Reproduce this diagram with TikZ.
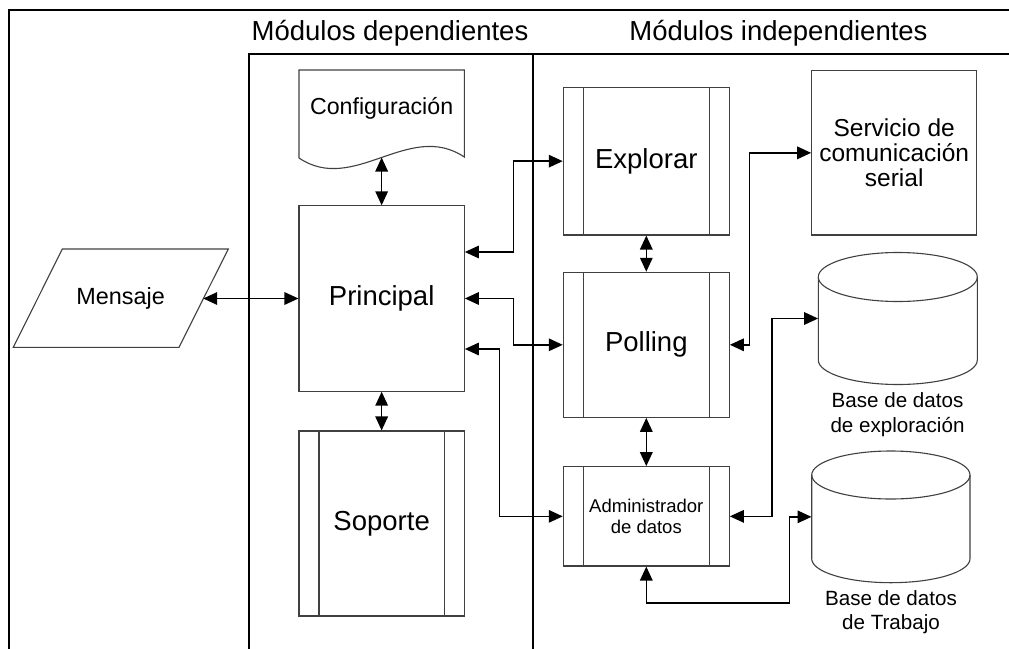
\documentclass[tikz,border=0pt]{standalone}
\usepackage{fontspec}
\setmainfont{Liberation Sans}
\usetikzlibrary{arrows.meta}
\begin{document}
\begin{tikzpicture}[x=1pt,y=-1pt,
  frameline/.style={line width=2pt,draw=black},
  colline/.style={line width=1.6pt,draw=black},
  shapeline/.style={line width=1.1pt,draw=black!75},
  plainbox/.style={shapeline,rectangle,inner sep=0pt,align=center},
  procbox/.style={plainbox,path picture={
     \draw[shapeline] ([xshift=20pt]path picture bounding box.north west) -- ([xshift=20pt]path picture bounding box.south west);
     \draw[shapeline] ([xshift=-20pt]path picture bounding box.north east) -- ([xshift=-20pt]path picture bounding box.south east);}},
  conn/.style={line width=1.6pt,{Triangle[length=14pt,width=12.5pt]}-{Triangle[length=14pt,width=12.5pt]}},
  bigfont/.style={font=\fontsize{27.5}{33}\selectfont},
  txt/.style={inner sep=0pt,align=center}
]
\useasboundingbox (0,0) rectangle (1009,648);

% outer frame and the two module columns
\draw[frameline] (1012,10) -- (9,10) -- (9,651);
\draw[colline] (1012,54) -- (249,54) -- (249,651);
\draw[colline] (533,54) -- (533,651);
\node[txt,bigfont] (T1) at (390,33) {Módulos dependientes};
\node[txt,bigfont] (T2) at (778.5,33) {Módulos independientes};

% input message (parallelogram)
\draw[shapeline] (62.3,249) -- (228.3,249) -- (179,347.3) -- (13.3,347.3) -- cycle;
\node[txt,font=\fontsize{23.4}{28}\selectfont] (M) at (120.7,298.2) {Mensaje};
\coordinate (Me) at (203.2,298.5);

% configuration document
\draw[shapeline] (299,158) -- (299,70) -- (464.3,70) -- (464.3,157)
  .. controls (409,120) and (354,195) .. cycle;
\node[txt,font=\fontsize{23.2}{28}\selectfont] (Cf) at (381.65,108) {Configuración};
\coordinate (CfB) at (381.65,157.5);

% dependent modules
\node[plainbox,bigfont,minimum width=165.3pt,minimum height=185.3pt] (P) at (381.65,298.5) {Principal};
\node[procbox,bigfont,minimum width=165.3pt,minimum height=185pt] (Sop) at (381.65,523.5) {Soporte};

% independent modules
\node[procbox,bigfont,minimum width=166pt,minimum height=147.7pt] (E) at (646.3,161.15) {Explorar};
\node[procbox,bigfont,minimum width=166pt,minimum height=145pt] (Pol) at (646.3,344.8) {Polling};
\node[procbox,font=\fontsize{18.5}{21.6}\selectfont,minimum width=166pt,minimum height=99.3pt] (A) at (646.3,516.35) {Administrador\\de datos};
\node[plainbox,font=\fontsize{24.5}{25}\selectfont,minimum width=165pt,minimum height=164.3pt] (S) at (894.2,152.85) {Servicio de\\comunicación\\serial};

% databases (cylinders)
\draw[shapeline,fill=white] (818.3,277) -- (818.3,360)
  arc[start angle=180,end angle=0,x radius=79.5,y radius=24.5] -- (977.3,277);
\draw[shapeline] (897.8,277) ellipse[x radius=79.5,y radius=24.5];
\node[inner sep=0pt,minimum width=159pt,minimum height=132pt] (C1) at (897.8,318.5) {};
\node[txt,font=\fontsize{20.6}{25}\selectfont] (L1) at (897.5,414.2) {Base de datos\\de exploración};

\draw[shapeline,fill=white] (811.7,475) -- (811.7,558.7)
  arc[start angle=180,end angle=0,x radius=79.15,y radius=24] -- (970,475);
\draw[shapeline] (890.85,475) ellipse[x radius=79.15,y radius=24];
\node[inner sep=0pt,minimum width=158.3pt,minimum height=131.7pt] (C2) at (890.85,516.85) {};
\node[txt,font=\fontsize{20.6}{24.3}\selectfont] (L2) at (891,612.2) {Base de datos\\de Trabajo};

% connectors
\draw[conn] (Me) -- (P.west);
\draw[conn] (CfB) -- (P.north);
\draw[conn] (P.south) -- (Sop.north);
\draw[conn] (E.west) -- ++(-49.3,0) |- ([yshift=46.5pt]P.east);
\draw[conn] (Pol.west) -- ++(-49.3,0) |- (P.east);
\draw[conn] (A.west) -- ++(-63.3,0) |- ([yshift=-50.5pt]P.east);
\draw[conn] (E.south) -- (Pol.north);
\draw[conn] (Pol.south) -- (A.north);
\draw[conn] (S.west) -- ++(-61.7,0) |- (Pol.east);
\draw[conn] (C1.west) -- ++(-46,0) |- (A.east);
\draw[conn] (C2.west) -- ++(-22,0) -- ++(0,86) -| (A.south);
\end{tikzpicture}
\end{document}
